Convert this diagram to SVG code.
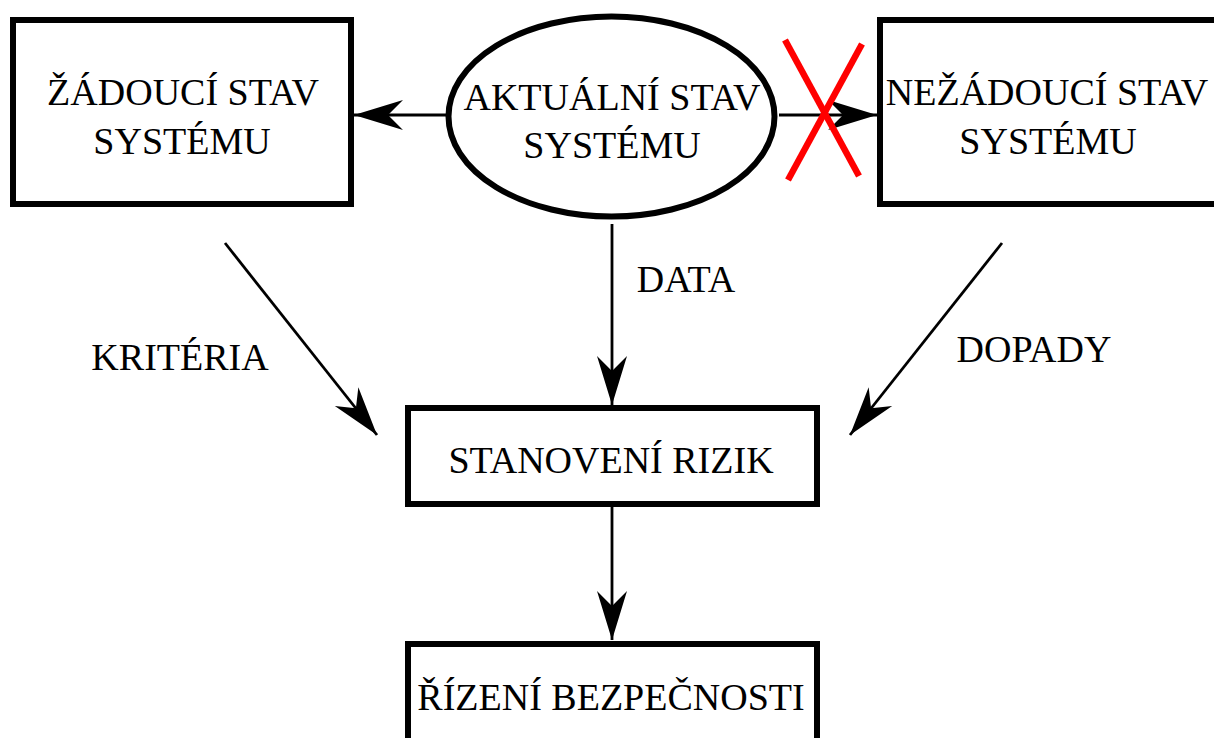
<svg xmlns="http://www.w3.org/2000/svg" width="1214" height="738" viewBox="0 0 1214 738">
  <style>
    .box { fill: #fff; stroke: #000; stroke-width: 6; }
    .lbl { font-family: "Liberation Serif", "Times New Roman", serif; font-size: 38px; fill: #000; text-anchor: middle; }
    .edge { fill: none; stroke: #000; stroke-width: 2.8; marker-end: url(#barb); }
    .cross { stroke: #f00; stroke-width: 6.5; stroke-linecap: butt; }
  </style>
  <defs>
    <!-- barbed arrowhead, tip at origin -->
    <marker id="barb" markerUnits="userSpaceOnUse" viewBox="-52 -18 56 36" refX="0" refY="0" markerWidth="56" markerHeight="36" orient="auto">
      <path d="M0,0 L-49,-15 L-34,0 L-49,15 Z" fill="#000"/>
    </marker>
  </defs>

  <g id="connectors">
    <path class="edge" d="M446,115 L354,115"/>
    <path class="edge" d="M779,115 L877,115"/>
    <path class="edge" d="M612,224 L612,405"/>
    <path class="edge" d="M225,243 L377,435"/>
    <path class="edge" d="M1002,243 L850,435"/>
    <path class="edge" d="M612,507 L612,640"/>
    <text class="lbl" x="686" y="292">DATA</text>
    <text class="lbl" x="180" y="370">KRITÉRIA</text>
    <text class="lbl" x="1034" y="362">DOPADY</text>
  </g>

  <g id="blocked">
    <line class="cross" x1="785" y1="40" x2="859" y2="176"/>
    <line class="cross" x1="862" y1="44" x2="788" y2="180"/>
  </g>

  <g id="desired-state">
    <rect class="box" x="13" y="20" width="338" height="184"/>
    <text class="lbl" x="183" y="105">ŽÁDOUCÍ STAV</text>
    <text class="lbl" x="182" y="154">SYSTÉMU</text>
  </g>

  <g id="current-state">
    <ellipse class="box" cx="611.5" cy="116.5" rx="163" ry="100"/>
    <text class="lbl" x="612" y="110">AKTUÁLNÍ STAV</text>
    <text class="lbl" x="612" y="158">SYSTÉMU</text>
  </g>

  <g id="undesired-state">
    <rect class="box" x="880" y="20" width="340" height="184"/>
    <text class="lbl" x="1047" y="105">NEŽÁDOUCÍ STAV</text>
    <text class="lbl" x="1048" y="154">SYSTÉMU</text>
  </g>

  <g id="risk-assessment">
    <rect class="box" x="408" y="408" width="409" height="96"/>
    <text class="lbl" x="611" y="473">STANOVENÍ RIZIK</text>
  </g>

  <g id="safety-management">
    <rect class="box" x="408" y="644" width="409" height="200"/>
    <text class="lbl" x="611" y="710">ŘÍZENÍ BEZPEČNOSTI</text>
  </g>
</svg>
